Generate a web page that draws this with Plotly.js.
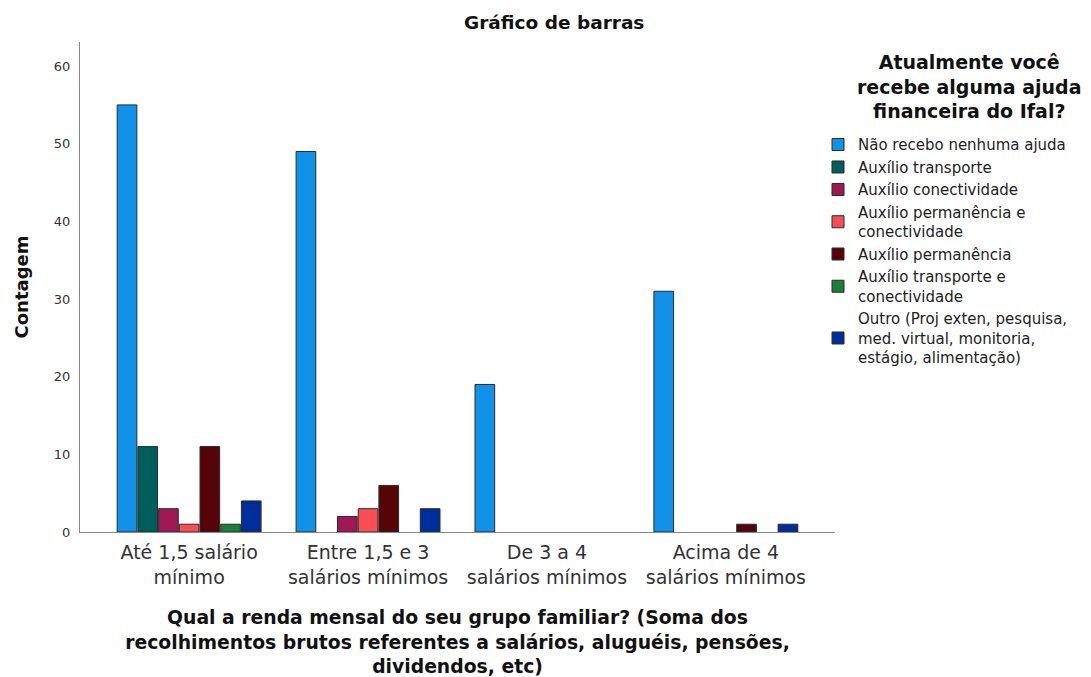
<!DOCTYPE html>
<html>
<head>
<meta charset="utf-8">
<script src="https://cdn.plot.ly/plotly-3.0.1.min.js"></script>
<style>html,body{margin:0;padding:0;background:#fff;}#chart{width:1091px;height:677px;}</style>
</head>
<body>
<div id="chart"></div>
<script>
const categories = ["Até 1,5 salário<br>mínimo", "Entre 1,5 e 3<br>salários mínimos", "De 3 a 4<br>salários mínimos", "Acima de 4<br>salários mínimos"];
const seriesNames = ["Não recebo nenhuma ajuda", "Auxílio transporte", "Auxílio conectividade", "Auxílio permanência e<br>conectividade", "Auxílio permanência", "Auxílio transporte e<br>conectividade", "Outro (Proj exten, pesquisa,<br>med. virtual, monitoria,<br>estágio, alimentação)"];
const naoRecebo = [55, 49, 19, 31];
const auxTransporte = [11, 0, 0, 0];
const auxConectividade = [3, 2, 0, 0];
const auxPermConect = [1, 3, 0, 0];
const auxPermanencia = [11, 6, 0, 1];
const auxTranspConect = [1, 0, 0, 0];
const outro = [4, 3, 0, 1];
const seriesValues = [naoRecebo, auxTransporte, auxConectividade, auxPermConect, auxPermanencia, auxTranspConect, outro];
const colors = ["#1192e8", "#005d5d", "#9f1853", "#fa4d56", "#570408", "#198038", "#002d9c"];
const legendTitle = "<b>Atualmente você<br>recebe alguma ajuda<br>financeira do Ifal?</b>";

const traces = seriesNames.map((n, i) => ({
  type: "bar",
  name: n,
  x: categories,
  y: seriesValues[i].map(v => v === 0 ? null : v),
  marker: {color: colors[i], line: {color: "#2a2a2a", width: 1}},
  hoverinfo: "x+y+name"
}));

const font = "DejaVu Sans, Verdana, sans-serif";
const layout = {
  width: 1091, height: 677,
  margin: {l: 80, r: 256, t: 42, b: 145},
  paper_bgcolor: "#fff", plot_bgcolor: "#fff",
  font: {family: font, color: "#222"},
  barmode: "group",
  bargap: 0.19,
  bargroupgap: 0.05,
  title: {text: "<b>Gráfico de barras</b>", x: 0.508, xanchor: "center", y: 0.967, yanchor: "middle", font: {size: 18.5, color: "#111", family: font}},
  xaxis: {
    range: [-0.61, 3.61],
    showline: true, linecolor: "#888", linewidth: 1,
    showgrid: false, zeroline: false, ticks: "",
    tickfont: {size: 19, color: "#333"},
    ticklabelstandoff: 3,
    title: {text: "<b>Qual a renda mensal do seu grupo familiar? (Soma dos<br>recolhimentos brutos referentes a salários, aluguéis, pensões,<br>dividendos, etc)</b>", font: {size: 18.8, color: "#111"}, standoff: 28}
  },
  yaxis: {
    range: [0, 63.1],
    showline: true, linecolor: "#888", linewidth: 1,
    showgrid: false, zeroline: false, ticks: "",
    dtick: 10,
    tickfont: {size: 13, color: "#333"},
    ticklabelstandoff: 6,
    title: {text: "<b>Contagem</b>", font: {size: 18, color: "#111"}, standoff: 20}
  },
  legend: {
    x: 0.9775, xanchor: "left", y: 0.824, yanchor: "top",
    font: {size: 15, color: "#222"},
    tracegroupgap: 0,
    itemwidth: 30
  },
  annotations: [{
    text: legendTitle, xref: "paper", yref: "paper",
    x: 1.1775, y: 0.985, xanchor: "center", yanchor: "top",
    showarrow: false, align: "center",
    font: {size: 19, color: "#111", family: font}
  }],
  showlegend: true
};

Plotly.newPlot("chart", traces, layout, {displayModeBar: false, staticPlot: true});
</script>
</body>
</html>
